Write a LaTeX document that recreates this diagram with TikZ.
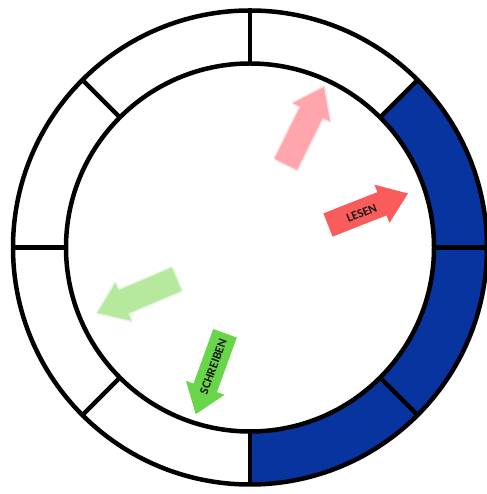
\documentclass[tikz,border=0pt]{standalone}
\usepackage{fontspec}
\newfontfamily\lblfont{Carlito}
\definecolor{ringblue}{RGB}{8,52,160}
\definecolor{lesenred}{RGB}{250,92,92}
\definecolor{schreibgreen}{RGB}{104,214,72}
\definecolor{pinkfade}{RGB}{255,165,172}
\definecolor{greenfade}{RGB}{182,232,158}
\tikzset{
  ringline/.style={line width=4.5pt,black},
  ringcircle/.style={circle,draw,ringline,inner sep=0pt,outer sep=0pt},
  blockarrow/.pic={
    \path[pic actions] (0,-12.5) -- (58,-12.5) -- (58,-20.5) -- (86,0) -- (58,20.5) -- (58,12.5) -- (0,12.5) -- cycle;
  },
  solidarrow/.style={fill=#1,draw=none},
  softarrow/.style={fill=#1,draw=#1,draw opacity=0.35,line width=3pt,line join=round},
  arrowtext/.style={font=\lblfont\bfseries\fontsize{12.5}{13}\selectfont,text=black!90,inner sep=0pt}
}
\begin{document}
\begin{tikzpicture}[x=1pt,y=1pt]
\useasboundingbox (0,0) rectangle (486,494);
\fill[white] (0,0) rectangle (486,494);
\coordinate (c) at (250,246.5);
% blue sectors
\begin{scope}[shift={(c)}]
  \fill[ringblue] (45:237) arc[start angle=45,end angle=-90,radius=237]
     -- (-90:184) arc[start angle=-90,end angle=45,radius=184] -- cycle;
\end{scope}
% circles
\node[ringcircle,minimum size=474pt] (outer) at (c) {};
\node[ringcircle,minimum size=368pt] (inner) at (c) {};
% dividers
\foreach \a in {0,45,...,315}{
  \draw[ringline] (inner.\a) -- (outer.\a);
}
% arrows
\pic[softarrow=pinkfade,rotate=63.7] at (285.8,329.8) {blockarrow};
\pic[softarrow=greenfade,rotate=203] at (176.7,214.8) {blockarrow};
\pic[solidarrow=lesenred,rotate=21.5] at (328,269) {blockarrow};
\pic[solidarrow=schreibgreen,rotate=250.1] at (225,160.7) {blockarrow};
\node[arrowtext,rotate=21.5] (lesen) at (361.7,280.7) {LESEN};
\node[arrowtext,rotate=70] (schreiben) at (213.3,127.3) {SCHREIBEN};
\end{tikzpicture}
\end{document}
